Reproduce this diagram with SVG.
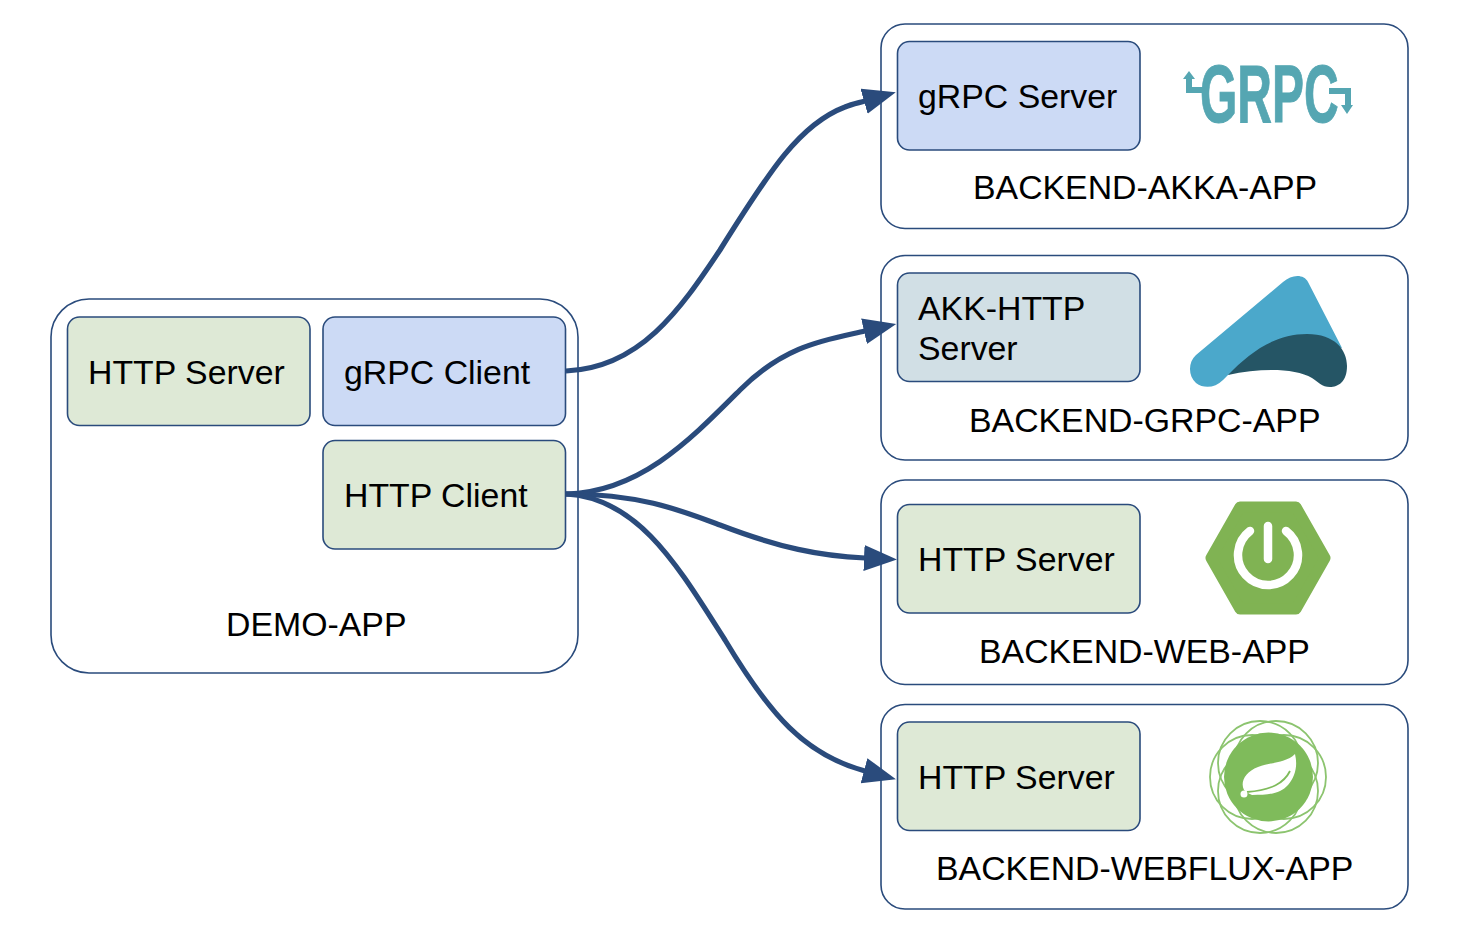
<svg xmlns="http://www.w3.org/2000/svg" width="1458" height="948" viewBox="0 0 1458 948">
<style>
.c{fill:#fff;stroke:#2a4b7c;stroke-width:1.6}
.b{stroke:#2a4b7c;stroke-width:1.6}
.blue{fill:#ccdaf5}.green{fill:#dee9d6}.grey{fill:#d1dfe5}
text{font-family:"Liberation Sans",Arial,sans-serif;font-size:33.85px;fill:#000}
.e{fill:none;stroke:#2a4b7c;stroke-width:5.200;marker-end:url(#a)}
</style>
<defs>
<marker id="a" markerUnits="userSpaceOnUse" markerWidth="40" markerHeight="30" refX="1" refY="13" orient="auto"><path d="M0,0L33,13L0,26Z" fill="#2a4b7c"/></marker>
</defs>
<rect width="1458" height="948" fill="#fff"/>
<g id="demo-app">
<rect class="c" x="51" y="299" width="527" height="374" rx="38"/>
<text x="226" y="636">DEMO-APP</text>
<rect class="b green" x="67.500" y="317" width="242.500" height="108.500" rx="12"/>
<text x="88" y="384">HTTP Server</text>
<rect class="b blue" x="323" y="317" width="242.500" height="108.500" rx="12"/>
<text x="344" y="384">gRPC Client</text>
<rect class="b green" x="323" y="440.500" width="242.500" height="108.500" rx="12"/>
<text x="344" y="507">HTTP Client</text>
</g>
<g id="backend-akka-app">
<rect class="c" x="881" y="24" width="527" height="204.500" rx="24"/>
<rect class="b blue" x="897.500" y="41.500" width="242.500" height="108.500" rx="12"/>
<text x="918" y="108">gRPC Server</text>
<text x="973" y="199">BACKEND-AKKA-APP</text>
<g id="logo-grpc" fill="#55a6b2">
<text transform="translate(1200 121.500) scale(0.585 1)" style="font-size:82px;font-weight:700;fill:#55a6b2;stroke:#55a6b2;stroke-width:1">GRPC</text>
<path d="M1189,79V90H1203M1329,91H1348V105" fill="none" stroke="#55a6b2" stroke-width="6"/>
<path d="M1183,79L1189,71L1195,79ZM1341,105L1347,114L1353,105Z"/>
</g>
</g>
<g id="backend-grpc-app">
<rect class="c" x="881" y="255.500" width="527" height="204.500" rx="24"/>
<rect class="b grey" x="897.500" y="273" width="242.500" height="108.500" rx="12"/>
<text x="918" y="320">AKK-HTTP</text>
<text x="918" y="360">Server</text>
<text x="969" y="432">BACKEND-GRPC-APP</text>
<g id="logo-akka">
<path d="M1283,282C1292,274 1304,274 1308,282L1342,348L1307,340L1228,375L1223,380C1215,388 1204,389 1196,383C1188,376 1188,362 1196,355Z" fill="#4ba8cb"/>
<path d="M1228,375C1250,352 1275,334 1307,334C1335,334 1347,350 1347,366C1347,382 1338,387 1330,387C1322,387 1318,382 1312,378C1295,368 1260,368 1228,375Z" fill="#255565"/>
</g>
</g>
<g id="backend-web-app">
<rect class="c" x="881" y="480" width="527" height="204.500" rx="24"/>
<rect class="b green" x="897.500" y="504.500" width="242.500" height="108.500" rx="12"/>
<text x="918" y="571">HTTP Server</text>
<text x="979" y="663">BACKEND-WEB-APP</text>
<g id="logo-spring-boot">
<path d="M1240,507H1296L1325,558L1296,609H1240L1211,558Z" fill="#80b353" stroke="#80b353" stroke-width="11" stroke-linejoin="round"/>
<path d="M1250,531A30,30 0 1 0 1286,531M1268,526V559" fill="none" stroke="#fff" stroke-width="8.500" stroke-linecap="round"/>
</g>
</g>
<g id="backend-webflux-app">
<rect class="c" x="881" y="704.500" width="527" height="204.500" rx="24"/>
<rect class="b green" x="897.500" y="722" width="242.500" height="108.500" rx="12"/>
<text x="918" y="789">HTTP Server</text>
<text x="936" y="880">BACKEND-WEBFLUX-APP</text>
<g id="logo-spring">
<g fill="none" stroke="#8cc46f" stroke-width="1.800">
<circle cx="1284" cy="777" r="42"/><circle cx="1252" cy="777" r="42"/>
<circle cx="1276" cy="763" r="42"/><circle cx="1260" cy="763" r="42"/>
<circle cx="1276" cy="791" r="42"/><circle cx="1260" cy="791" r="42"/>
</g>
<circle cx="1268.500" cy="777" r="44.500" fill="#7fbb5b"/>
<path d="M1295,754C1286,763 1272,762 1258,767C1245,772 1240,782 1244,790C1246,792 1248,793 1252,795C1268,795 1280,794 1288,785C1295,777 1298,766 1295,754Z" fill="#fff"/>
<path d="M1290,771C1284,783 1272,790 1247,792" fill="none" stroke="#7fbb5b" stroke-width="1.800"/>
<circle cx="1244" cy="794" r="3.500" fill="#fff"/>
</g>
</g>
<g id="connectors">
<path class="e" d="M566,371C640,368 680,310 720,250C770,170 800,124 845,107C852,104 858,103 865,101"/>
<path class="e" d="M566,494C640,492 690,440 740,390C785,345 825,340 865,331"/>
<path class="e" d="M566,494C640,494 680,510 720,525C780,548 820,556 865,558"/>
<path class="e" d="M566,494C640,498 680,570 725,640C770,715 805,755 865,771"/>
</g>
</svg>
